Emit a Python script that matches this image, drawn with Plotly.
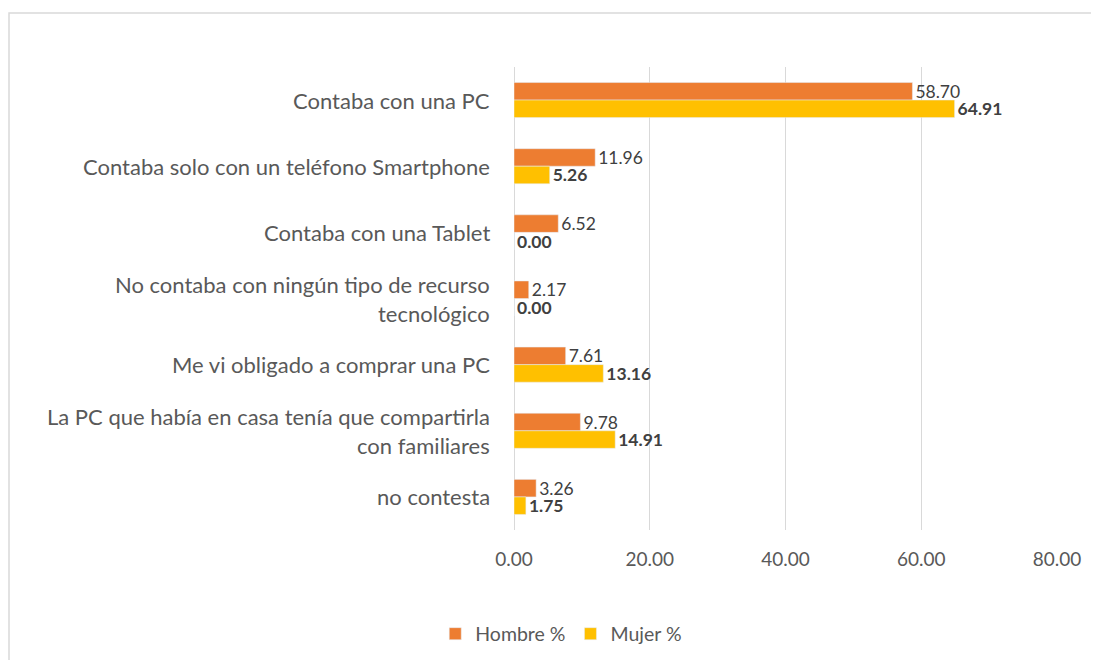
import plotly.graph_objects as go

categories = [
    "Contaba con una PC",
    "Contaba solo con un teléfono Smartphone",
    "Contaba con una Tablet",
    "No contaba con ningún tipo de recurso\ntecnológico",
    "Me vi obligado a comprar una PC",
    "La PC que había en casa tenía que compartirla\ncon familiares",
    "no contesta",
]
hombre = [58.70, 11.96, 6.52, 2.17, 7.61, 9.78, 3.26]
mujer = [64.91, 5.26, 0.00, 0.00, 13.16, 14.91, 1.75]
x_ticks = [0, 20, 40, 60, 80]

FONT = "Lato"
TEXT = "#595959"
LABEL = "#404040"

fig = go.Figure()
fig.add_trace(go.Bar(
    y=categories, x=hombre, orientation="h", name="Hombre %",
    marker_color="#ED7D31",
    texttemplate="%{x:.2f}", textposition="outside", constraintext="none",
    textfont=dict(family=FONT, size=17.5, color=LABEL),
    cliponaxis=False,
))
fig.add_trace(go.Bar(
    y=categories, x=mujer, orientation="h", name="Mujer %",
    marker_color="#FFC000",
    texttemplate="<b>%{x:.2f}</b>", textposition="outside", constraintext="none",
    textfont=dict(family=FONT, size=17.5, color=LABEL),
    cliponaxis=False,
))

# category labels as centred annotations (multi-line centred like the source)
annotations = []
for cat in categories:
    lines = cat.split("\n")
    n = len(lines)
    for i, line in enumerate(lines):
        annotations.append(dict(
            x=0, xref="paper", y=cat, yref="y",
            text=line, showarrow=False,
            xanchor="right", yanchor="middle", xshift=-22,
            yshift=(n - 1) * 14.5 - i * 29,
            font=dict(family=FONT, size=22, color=TEXT),
        ))

fig.update_layout(
    width=1091, height=660,
    margin=dict(l=506, r=42, t=59, b=138),
    paper_bgcolor="white", plot_bgcolor="white",
    barmode="group", bargap=0.47, bargroupgap=0,
    font=dict(family=FONT, color=TEXT),
    showlegend=True,
    legend=dict(
        orientation="h", x=0.087, xanchor="center", y=-0.2246, yanchor="middle",
        font=dict(family=FONT, size=19.5, color=TEXT),
        itemwidth=30, traceorder="normal",
    ),
    annotations=annotations,
    shapes=[dict(
        type="rect", xref="paper", yref="paper",
        x0=-0.930, x1=1.2, y0=-0.4, y1=1.1166,
        line=dict(color="#D9D9D9", width=1.5), layer="below",
    )],
)
fig.update_xaxes(
    range=[0, 80], tickvals=x_ticks, tickformat=".2f",
    showgrid=True, gridcolor="#D9D9D9", gridwidth=1,
    zeroline=True, zerolinecolor="#D9D9D9", zerolinewidth=1,
    showline=False, ticks="", ticklabelstandoff=16,
    tickfont=dict(family=FONT, size=19, color=TEXT),
)
fig.update_yaxes(
    autorange="reversed", showticklabels=False, showgrid=False,
    showline=False, ticks="",
)

fig.write_html("out.html")
